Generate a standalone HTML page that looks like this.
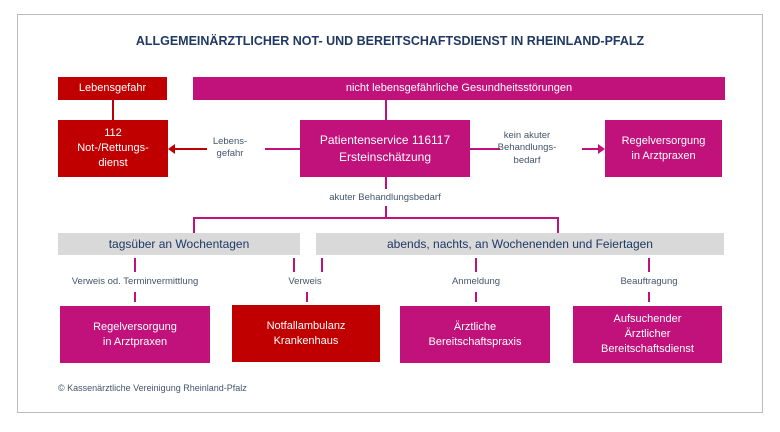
<!DOCTYPE html>
<html><head><meta charset="utf-8"><style>
body{margin:0;width:780px;height:432px;background:#fff;position:relative;font-family:"Liberation Sans",sans-serif;overflow:hidden}
.a{position:absolute;box-sizing:border-box;display:flex;align-items:center;justify-content:center;text-align:center;color:#fff;font-size:11px;line-height:1.35}
.m{background:#c0127a}.r{background:#c00000}.g{background:#d9d9d9;color:#1f3864;font-size:12px}
.t{position:absolute;color:#44546a;font-size:9.5px;text-align:center;line-height:1.3}
.l{position:absolute;background:#c0127a}
</style></head><body>
<div style="position:absolute;left:17px;top:14px;width:746px;height:399px;border:1.5px solid #bbb;box-sizing:border-box"></div>
<div style="position:absolute;left:0;width:780px;top:34px;text-align:center;font-weight:bold;font-size:12.5px;color:#1f3864">ALLGEMEINÄRZTLICHER NOT- UND BEREITSCHAFTSDIENST IN RHEINLAND-PFALZ</div>
<div class="a r" style="left:58px;top:77px;width:109px;height:23px">Lebensgefahr</div>
<div class="a m" style="left:193px;top:77px;width:532px;height:23px">nicht lebensgefährliche Gesundheitsstörungen</div>
<div class="l" style="left:112px;top:100px;width:2px;height:20px;background:#c00000"></div>
<div class="l" style="left:385px;top:100px;width:2px;height:20px"></div>
<div class="a r" style="left:58px;top:120px;width:110px;height:57px">112<br>Not-/Rettungs-<br>dienst</div>
<div class="a m" style="left:300px;top:120px;width:170px;height:57px;font-size:12px">Patientenservice 116117<br>Ersteinschätzung</div>
<div class="a m" style="left:605px;top:120px;width:117px;height:57px">Regelversorgung<br>in Arztpraxen</div>
<div class="l" style="left:172px;top:148px;width:35px;height:2px;background:#c00000"></div>
<div style="position:absolute;left:168px;top:144px;border-right:7px solid #c00000;border-top:5px solid transparent;border-bottom:5px solid transparent"></div>
<div class="t" style="left:210px;top:136px;width:40px">Lebens-<br>gefahr</div>
<div class="l" style="left:265px;top:148px;width:35px;height:2px"></div>
<div class="l" style="left:470px;top:148px;width:30px;height:2px"></div>
<div class="t" style="left:497px;top:130px;width:60px">kein akuter<br>Behandlungs-<br>bedarf</div>
<div class="l" style="left:582px;top:148px;width:18px;height:2px"></div>
<div style="position:absolute;left:598px;top:144px;border-left:7px solid #c0127a;border-top:5px solid transparent;border-bottom:5px solid transparent"></div>
<div class="l" style="left:385px;top:177px;width:2px;height:12px"></div>
<div class="t" style="left:300px;top:192px;width:170px">akuter Behandlungsbedarf</div>
<div class="l" style="left:385px;top:206px;width:2px;height:13px"></div>
<div class="l" style="left:193px;top:217px;width:366px;height:2px"></div>
<div class="l" style="left:193px;top:217px;width:2px;height:16px"></div>
<div class="l" style="left:557px;top:217px;width:2px;height:16px"></div>
<div class="a g" style="left:58px;top:233px;width:242px;height:22px">tagsüber an Wochentagen</div>
<div class="a g" style="left:316px;top:233px;width:408px;height:22px">abends, nachts, an Wochenenden und Feiertagen</div>
<div class="l" style="left:134px;top:258px;width:2px;height:14px"></div>
<div class="l" style="left:293px;top:258px;width:2px;height:14px"></div>
<div class="l" style="left:321px;top:258px;width:2px;height:14px"></div>
<div class="l" style="left:475px;top:258px;width:2px;height:14px"></div>
<div class="l" style="left:648px;top:258px;width:2px;height:14px"></div>
<div class="t" style="left:40px;top:276px;width:190px">Verweis od. Terminvermittlung</div>
<div class="t" style="left:280px;top:276px;width:50px">Verweis</div>
<div class="t" style="left:430px;top:276px;width:92px">Anmeldung</div>
<div class="t" style="left:600px;top:276px;width:98px">Beauftragung</div>
<div class="l" style="left:134px;top:292px;width:2px;height:10px"></div>
<div class="l" style="left:306px;top:292px;width:2px;height:10px"></div>
<div class="l" style="left:475px;top:292px;width:2px;height:10px"></div>
<div class="l" style="left:648px;top:292px;width:2px;height:10px"></div>
<div class="a m" style="left:60px;top:306px;width:150px;height:57px">Regelversorgung<br>in Arztpraxen</div>
<div class="a r" style="left:232px;top:305px;width:148px;height:57px">Notfallambulanz<br>Krankenhaus</div>
<div class="a m" style="left:400px;top:306px;width:150px;height:57px">Ärztliche<br>Bereitschaftspraxis</div>
<div class="a m" style="left:573px;top:306px;width:149px;height:57px">Aufsuchender<br>Ärztlicher<br>Bereitschaftsdienst</div>
<div class="t" style="left:58px;top:383px;text-align:left;font-size:9px">© Kassenärztliche Vereinigung Rheinland-Pfalz</div>
</body></html>
